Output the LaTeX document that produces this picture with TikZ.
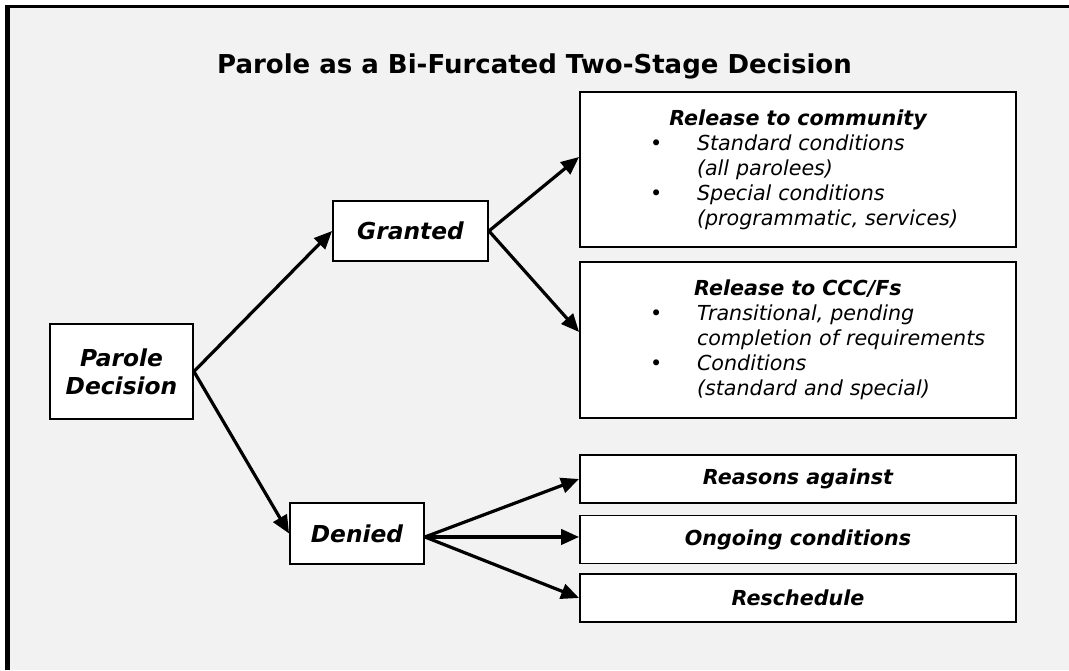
\documentclass[tikz,border=0pt]{standalone}
\usepackage{fontspec}
\setmainfont{DejaVu Sans}
\usepackage{xcolor}
\definecolor{PanelGrey}{HTML}{F2F2F2}
\usetikzlibrary{
  calc,
  positioning,
  arrows.meta
}

\begin{document}
\begin{tikzpicture}[
    x=0.75pt, y=-0.75pt,
    box/.style={
      rectangle, draw=black, line width=1.4pt, fill=white,
      inner sep=0pt, align=center,
      font=\fontsize{17.5}{21}\selectfont\bfseries\itshape
    },
    listbox/.style={
      box, text width=327pt, minimum height=#1, align=left,
      font=\fontsize{15.5}{18.75}\selectfont\itshape
    },
    outbox/.style={
      box, minimum width=327pt, minimum height=36pt,
      font=\fontsize{15.5}{18.75}\selectfont\bfseries\itshape
    },
    arr/.style={-{Triangle[length=13.5pt,width=11.5pt]}, line width=2.4pt, black},
    ttl/.style={font=\fontsize{19.5}{23}\selectfont\bfseries, anchor=base}
  ]
    \newcommand{\bulitem}{\hspace*{52.5pt}\makebox[35.25pt][l]{\textbullet}}
    \newcommand{\bulcont}{\hspace*{87.75pt}}
    \useasboundingbox (0,0) rectangle (1069,670);
    % panel with heavy top and left edge
    \fill[white] (0,0) rectangle (1069,670);
    \fill[PanelGrey] (7.5,6.5) rectangle (1069,670);
    \draw[line width=3.4pt] (7.5,670) -- (7.5,6.5);
    \draw[line width=2.25pt] (5.2,6.5) -- (1069,6.5);

    \node[ttl] (title) at (534.5,74) {Parole as a Bi-Furcated Two-Stage Decision};

    \node[box, minimum width=107.25pt, minimum height=71.25pt] (pd)
      at (121.5,371.5) {Parole\\Decision};
    \node[box, minimum width=116.25pt, minimum height=45pt] (gr)
      at (410.5,231) {Granted};
    \node[box, minimum width=100.5pt, minimum height=45.75pt] (dn)
      at (357,533.5) {Denied};

    \node[listbox=116.25pt] (comm) at (798,169.5) {%
      \makebox[\linewidth]{\bfseries Release to community}\\
      \bulitem Standard conditions\\
      \bulcont (all parolees)\\
      \bulitem Special conditions\\
      \bulcont (programmatic, services)};
    \node[listbox=117pt] (cccf) at (798,340) {%
      \makebox[\linewidth]{\bfseries Release to CCC/Fs}\\
      \bulitem Transitional, pending\\
      \bulcont completion of requirements\\
      \bulitem Conditions\\
      \bulcont (standard and special)};

    \node[outbox] (reas) at (798,479) {Reasons against};
    \node[outbox] (ongo) at (798,539.5) {Ongoing conditions};
    \node[outbox] (resch) at (798,598) {Reschedule};

    \coordinate (dnout) at ([yshift=-2.6pt]dn.east);
    \draw[arr] (pd.east) -- (gr.west);
    \draw[arr] (pd.east) -- (dn.west);
    \draw[arr] (gr.east) -- ([yshift=9.4pt]comm.west);
    \draw[arr] (gr.east) -- ([yshift=6pt]cccf.west);
    \draw[arr] (dnout) -- (reas.west);
    \draw[arr] (dnout) -- (dnout -| ongo.west);
    \draw[arr] (dnout) -- (resch.west);
  \end{tikzpicture}
\end{document}
